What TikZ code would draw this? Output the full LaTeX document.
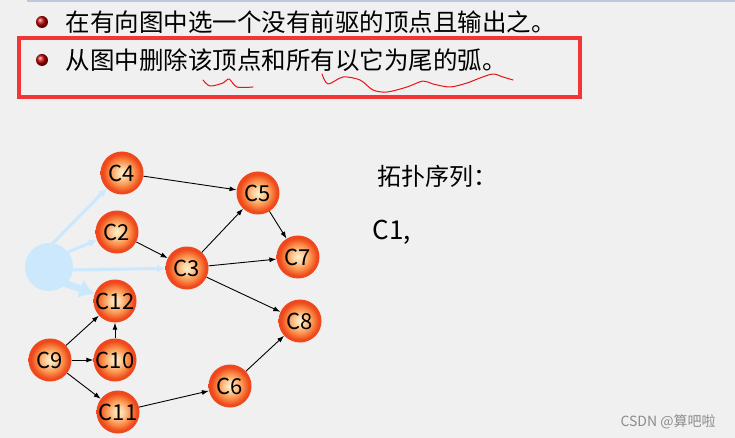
\documentclass[tikz,border=0pt]{standalone}
\usepackage{fontspec}
\setmainfont{Noto Sans CJK SC}
\usetikzlibrary{arrows.meta}
\definecolor{bg}{RGB}{240,240,240}
\definecolor{ghost}{RGB}{204,232,252}
\definecolor{nodeedge}{RGB}{238,72,28}
\definecolor{nodemid}{RGB}{250,140,70}
\definecolor{nodein}{RGB}{255,240,200}
\definecolor{boxred}{RGB}{242,54,54}
\definecolor{pen}{RGB}{230,20,20}
\definecolor{topline}{RGB}{190,200,220}
\pgfdeclareradialshading{vball}{\pgfpoint{0bp}{0bp}}{color(0bp)=(nodein); color(6bp)=(nodein!70!nodemid); color(15bp)=(nodemid); color(22bp)=(nodeedge); color(25bp)=(nodeedge); color(50bp)=(nodeedge)}
\tikzset{
  vtx/.style={circle, minimum size=43pt, inner sep=0pt, shading=vball, font=\fontsize{22}{22}\selectfont, text=black},
  arc/.style={-{Latex[length=7pt,width=5pt]}, line width=0.9pt, black},
  gedge/.style={-{Latex[length=8pt,width=8pt]}, line width=3pt, ghost},
  bul/.style={circle, minimum size=12pt, inner sep=0pt, ball color=red!75!black},
  pentrace/.style={pen, line width=1pt, line cap=round, line join=round}
}
\begin{document}
\begin{tikzpicture}[x=1pt,y=-1pt]
\fill[bg] (0,0) rectangle (735,438);
\useasboundingbox (0,0) rectangle (735,438);
\draw[topline, line width=1.2pt] (27,1) -- (735,1);
% bullets and text
\node[bul] (b1) at (42,22) {};
\node[anchor=west, font=\fontsize{24.5}{26}\selectfont] (t1) at (62,22) {在有向图中选一个没有前驱的顶点且输出之。};
\node[bul] (b2) at (42,60) {};
\node[anchor=west, font=\fontsize{24.5}{26}\selectfont] (t2) at (62,60) {从图中删除该顶点和所有以它为尾的弧。};
\draw[boxred, line width=4.5pt] (19,38) rectangle (580,97);
% hand-drawn underlines
\draw[pentrace] plot[smooth] coordinates {(203,80) (210,86) (223,83) (229,79) (237,87) (253,87)};
\draw[pentrace] plot[smooth] coordinates {(322,74) (328,84) (343,77) (360,80) (373,90) (387,92) (407,87) (423,81) (433,84) (450,87) (467,83) (480,78) (493,74) (503,77) (513,80)};
% ghost vertex C1
\fill[ghost] (49,267) circle (24);
\coordinate (g) at (49,267);
% vertices
\node[vtx] (c4) at (122,173) {C4};
\node[vtx] (c2) at (117,232) {C2};
\node[vtx] (c3) at (187,268) {C3};
\node[vtx] (c5) at (258,193) {C5};
\node[vtx] (c7) at (298,257) {C7};
\node[vtx] (c8) at (300,321) {C8};
\node[vtx] (c12) at (115,301) {C12};
\node[vtx] (c9) at (50,360) {C9};
\node[vtx] (c10) at (115,360) {C10};
\node[vtx] (c11) at (118,412) {C11};
\node[vtx] (c6) at (230,386) {C6};
% ghost edges
\draw[gedge] (52,244) -- (c4);
\draw[gedge] (68,252) -- (c2);
\draw[gedge] (72,270) -- (c3);
\draw[ghost, line width=7pt, -{Latex[length=15pt,width=20pt]}] (64,283) -- (c12);
% arcs
\draw[arc] (c4) -- (c5);
\draw[arc] (c2) -- (c3);
\draw[arc] (c3) -- (c5);
\draw[arc] (c5) -- (c7);
\draw[arc] (c3) -- (c7);
\draw[arc] (c3) -- (c8);
\draw[arc] (c9) -- (c12);
\draw[arc] (c10) -- (c12);
\draw[arc] (c9) -- (c10);
\draw[arc] (c9) -- (c11);
\draw[arc] (c11) -- (c6);
\draw[arc] (c6) -- (c8);
% right side text
\node[anchor=west, font=\fontsize{24}{26}\selectfont] (topo) at (374,176) {拓扑序列：};
\node[anchor=west, font=\fontsize{26}{28}\selectfont] (seq) at (369,232) {C1,};
\node[anchor=west, font=\fontsize{14}{15}\selectfont, text=black!45] (wm) at (617,422) {CSDN @算吧啦};
\end{tikzpicture}
\end{document}
